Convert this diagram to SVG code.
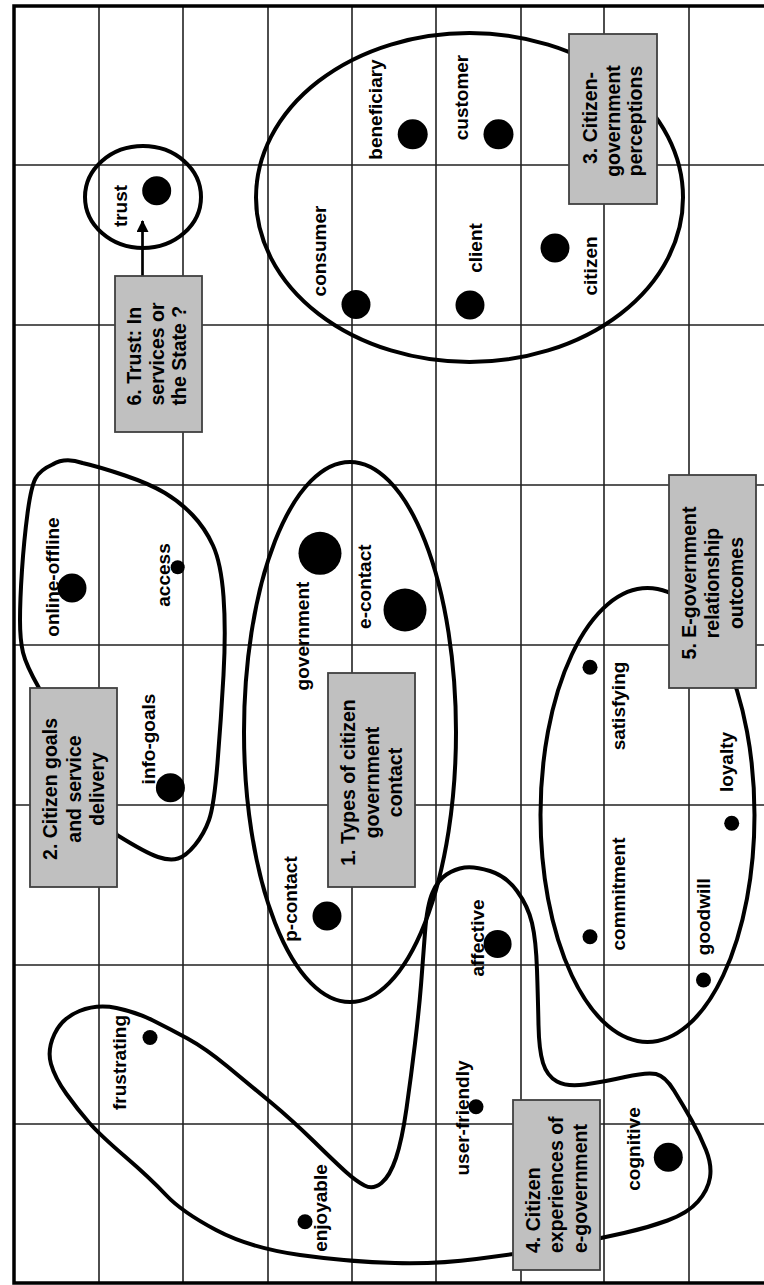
<svg xmlns="http://www.w3.org/2000/svg" width="764" height="1285" viewBox="0 0 764 1285">
<defs>
<style>
.grid{stroke:#222;stroke-width:1.6;fill:none}
.border{stroke:#000;stroke-width:3.5;fill:none}
.cl{fill:none;stroke:#000;stroke-width:4;stroke-linejoin:round}
.dot{fill:#000}
.lb{font-family:"Liberation Sans",Arial,sans-serif;font-weight:bold;font-size:19px;fill:#000;text-anchor:middle}
.bx{fill:#c0c0c0;stroke:#404040;stroke-width:1.8}
.bt{font-family:"Liberation Sans",Arial,sans-serif;font-weight:bold;font-size:19.5px;fill:#000;text-anchor:middle}
.bs{text-anchor:start}
</style>
<marker id="ah" viewBox="0 0 12 12" refX="11" refY="6" markerWidth="12" markerHeight="12" markerUnits="userSpaceOnUse" orient="auto">
<path d="M0,0 L12,6 L0,12 Z" fill="#000"/>
</marker>
</defs>
<rect width="764" height="1285" fill="#fff"/>
<g id="grid">
<path class="grid" d="M99,6V1283M183,6V1283M268,6V1283M352,6V1283M436,6V1283M521,6V1283M604,6V1283M689,6V1283"/>
<path class="grid" d="M14,165H764M14,325H764M14,485H764M14,645H764M14,805H764M14,965H764M14,1124H764"/>
<path class="border" d="M764,6H14V1283H764"/>
</g>
<g id="cluster-trust"><ellipse class="cl" cx="143" cy="197" rx="58" ry="51"/></g>
<g id="cluster-perceptions"><ellipse class="cl" cx="469.5" cy="197.5" rx="213.5" ry="164.5"/></g>
<g id="cluster-contact"><ellipse class="cl" cx="350" cy="732" rx="106" ry="270"/></g>
<g id="cluster-outcomes"><ellipse class="cl" cx="647.5" cy="815" rx="107" ry="227"/></g>
<g id="cluster-goals"><path class="cl" d="M117,835 Q146,853 158,857 Q170,861 178,858.5 Q186,856 195,845 Q204,834 209,820 Q214,806 217.5,763 Q221,720 223.5,675 Q226,630 223.5,596.5 Q221,563 213,545.5 Q205,528 192.5,515 Q180,502 165,493 Q150,484 125,475.5 Q100,467 82.5,463 Q65,457 52.5,464.5 Q40,470 35.5,478.5 Q31,487 27.5,513.5 Q24,540 22,570 Q20,600 20,620 Q20,640 23,652.5 Q26,665 39,688 Z"/></g>
<g id="cluster-experiences"><path class="cl" d="M513,1254 L476.5,1259 Q440,1264 395,1263 Q350,1262 300,1255 Q250,1248 216,1230 Q182,1212 166,1195 Q150,1178 125,1156.5 Q100,1135 89,1122.5 Q78,1110 66.5,1094 Q55,1078 51,1064 Q47,1050 54.5,1034 Q62,1018 79.5,1011 Q97,1004 116.5,1008 Q136,1012 153,1020.5 Q170,1029 187.5,1038.5 Q205,1048 227.5,1066.5 Q250,1085 271,1102.5 Q292,1120 314,1141.5 Q336,1163 346,1172 Q356,1181 364.5,1185.5 Q373,1190 381.5,1183 Q390,1176 396,1158 Q402,1140 406.5,1108.5 Q411,1077 415,1043.5 Q419,1010 421,985 Q423,960 425,932.5 Q427,905 432.5,892.5 Q438,880 446.5,874.5 Q455,869 464.5,867.5 Q474,866 490,871 Q506,876 517,891 Q528,906 532,923 Q536,940 537,970 Q538,1000 538.5,1025 Q539,1050 543,1063 Q547,1076 557,1081.5 Q567,1087 585,1084.5 Q603,1082 625,1077 Q647,1072 656,1074 Q665,1076 674,1090.5 Q683,1105 691.5,1120 Q700,1135 706,1150 Q712,1165 710,1177.5 Q708,1190 698,1201.5 Q688,1213 667.5,1220.5 Q647,1228 624,1233 L601,1238 Z"/></g>
<g id="connectors">
<line x1="142.5" y1="276" x2="142.5" y2="221" stroke="#000" stroke-width="2.7" marker-end="url(#ah)"/>
</g>
<g id="n-trust"><circle class="dot" cx="156.7" cy="190.7" r="14.5"/><text class="lb" transform="translate(127,206) rotate(-90)">trust</text></g>
<g id="n-beneficiary"><circle class="dot" cx="412.7" cy="134.3" r="15"/><text class="lb" transform="translate(382,109.5) rotate(-90)">beneficiary</text></g>
<g id="n-customer"><circle class="dot" cx="498.5" cy="134.3" r="15"/><text class="lb" transform="translate(468,97.5) rotate(-90)">customer</text></g>
<g id="n-consumer"><circle class="dot" cx="356" cy="304.5" r="14.5"/><text class="lb" transform="translate(326,251) rotate(-90)">consumer</text></g>
<g id="n-client"><circle class="dot" cx="470" cy="305" r="14.5"/><text class="lb" transform="translate(482,248) rotate(-90)">client</text></g>
<g id="n-citizen"><circle class="dot" cx="555" cy="248" r="14.5"/><text class="lb" transform="translate(597,266) rotate(-90)">citizen</text></g>
<g id="n-online-offline"><circle class="dot" cx="72" cy="588" r="14.5"/><text class="lb" transform="translate(59,577) rotate(-90)">online-offline</text></g>
<g id="n-access"><circle class="dot" cx="177.7" cy="567.3" r="7"/><text class="lb" transform="translate(170,575) rotate(-90)">access</text></g>
<g id="n-government"><circle class="dot" cx="320" cy="553.3" r="21.5"/><text class="lb" transform="translate(309,636) rotate(-90)">government</text></g>
<g id="n-e-contact"><circle class="dot" cx="405" cy="610" r="21.5"/><text class="lb" transform="translate(370.5,586.7) rotate(-90)">e-contact</text></g>
<g id="n-info-goals"><circle class="dot" cx="170.4" cy="787.7" r="14.5"/><text class="lb" transform="translate(155,739) rotate(-90)">info-goals</text></g>
<g id="n-p-contact"><circle class="dot" cx="327" cy="916" r="14.5"/><text class="lb" transform="translate(297,899) rotate(-90)">p-contact</text></g>
<g id="n-affective"><circle class="dot" cx="497.6" cy="944" r="14"/><text class="lb" transform="translate(484,938) rotate(-90)">affective</text></g>
<g id="n-satisfying"><circle class="dot" cx="590" cy="667.3" r="7.5"/><text class="lb" transform="translate(625,706) rotate(-90)">satisfying</text></g>
<g id="n-commitment"><circle class="dot" cx="590" cy="936.7" r="7.5"/><text class="lb" transform="translate(625,894) rotate(-90)">commitment</text></g>
<g id="n-loyalty"><circle class="dot" cx="731.7" cy="823.3" r="7.5"/><text class="lb" transform="translate(733,762) rotate(-90)">loyalty</text></g>
<g id="n-goodwill"><circle class="dot" cx="703.5" cy="980" r="7.5"/><text class="lb" transform="translate(710,916.7) rotate(-90)">goodwill</text></g>
<g id="n-frustrating"><circle class="dot" cx="150" cy="1037.5" r="7.5"/><text class="lb" transform="translate(126,1062.5) rotate(-90)">frustrating</text></g>
<g id="n-enjoyable"><circle class="dot" cx="305" cy="1221.7" r="7.5"/><text class="lb" transform="translate(327,1208) rotate(-90)">enjoyable</text></g>
<g id="n-user-friendly"><circle class="dot" cx="476" cy="1106.7" r="7.5"/><text class="lb" transform="translate(469,1118) rotate(-90)">user-friendly</text></g>
<g id="n-cognitive"><circle class="dot" cx="668.3" cy="1157.3" r="14.5"/><text class="lb" transform="translate(640,1149) rotate(-90)">cognitive</text></g>
<g id="box-3">
<rect class="bx" x="569" y="34" width="88" height="170"/>
<text class="bt" transform="translate(596.5,118) rotate(-90)">3. Citizen-</text>
<text class="bt" transform="translate(619.5,121) rotate(-90)">government</text>
<text class="bt" transform="translate(642,121) rotate(-90)">perceptions</text>
</g>
<g id="box-6">
<rect class="bx" x="115" y="276" width="87" height="156"/>
<text class="bt bs" transform="translate(141,405.5) rotate(-90)">6. Trust: In</text>
<text class="bt bs" transform="translate(163.5,405.5) rotate(-90)">services or</text>
<text class="bt bs" transform="translate(186,405.5) rotate(-90)">the State ?</text>
</g>
<g id="box-2">
<rect class="bx" x="30" y="688" width="87" height="199"/>
<text class="bt" transform="translate(57,789) rotate(-90)">2. Citizen goals</text>
<text class="bt" transform="translate(80.5,789) rotate(-90)">and service</text>
<text class="bt" transform="translate(104,789) rotate(-90)">delivery</text>
</g>
<g id="box-1">
<rect class="bx" x="328" y="673" width="87" height="214"/>
<text class="bt" transform="translate(355,782.5) rotate(-90)">1. Types of citizen</text>
<text class="bt" transform="translate(378.5,782.5) rotate(-90)">government</text>
<text class="bt" transform="translate(401.5,782.5) rotate(-90)">contact</text>
</g>
<g id="box-5">
<rect class="bx" x="669" y="475" width="87" height="213"/>
<text class="bt" transform="translate(695.5,583) rotate(-90)">5. E-government</text>
<text class="bt" transform="translate(719,583) rotate(-90)">relationship</text>
<text class="bt" transform="translate(742.5,583) rotate(-90)">outcomes</text>
</g>
<g id="box-4">
<rect class="bx" x="513" y="1100" width="87" height="170"/>
<text class="bt bs" transform="translate(539.5,1253) rotate(-90)">4. Citizen</text>
<text class="bt bs" transform="translate(563,1253) rotate(-90)">experiences of</text>
<text class="bt bs" transform="translate(586.5,1253) rotate(-90)">e-government</text>
</g>
</svg>
